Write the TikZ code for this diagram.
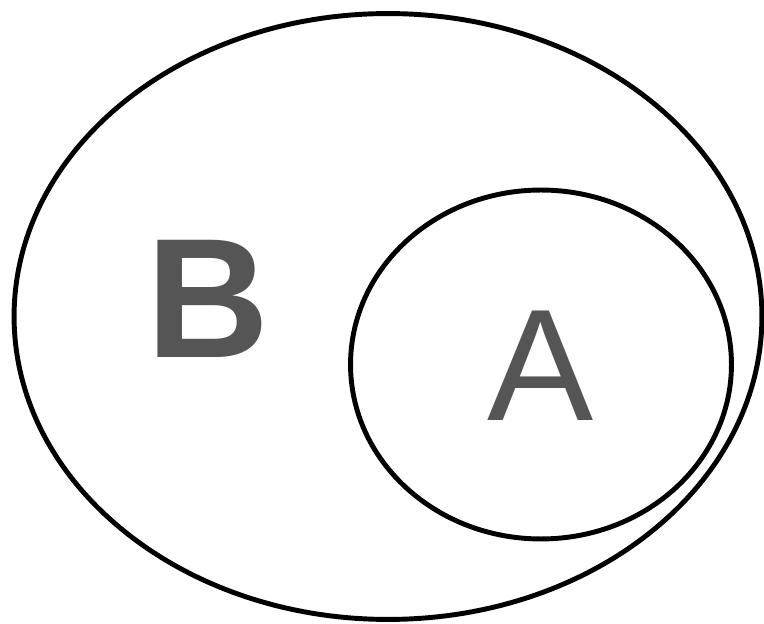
\documentclass[tikz,border=0pt]{standalone}
\usepackage{fontspec}
\usepackage{tikz}
\usetikzlibrary{shapes.geometric,positioning}
\newfontfamily\setfont{Liberation Sans}
\definecolor{SetInk}{HTML}{000000}
\definecolor{LabelGray}{HTML}{555555}
\tikzset{
  setoval/.style={ellipse, draw=SetInk, line width=2.8pt, fill=none, inner sep=0pt},
  setlabel/.style={text=LabelGray, inner sep=0pt, anchor=base},
}

\begin{document}
\begin{tikzpicture}[x=0.02cm, y=-0.02cm]
\useasboundingbox (0,0) rectangle (764,624);
% ===================== outer set B
\node[setoval, minimum width=14.96cm, minimum height=12.12cm] (setB) at (388,316.5) {};
\node[setlabel, font=\setfont\bfseries\fontsize{97}{97}\selectfont] (labB) at (208.5,358) {B};
% ===================== inner set A, touching B on the right
\node[setoval, minimum width=7.62cm, minimum height=6.98cm] (setA) at (541,364.5) {};
\node[setlabel, font=\setfont\fontsize{90.6}{90.6}\selectfont] (labA) at (540.5,421) {A};
\end{tikzpicture}
\end{document}
